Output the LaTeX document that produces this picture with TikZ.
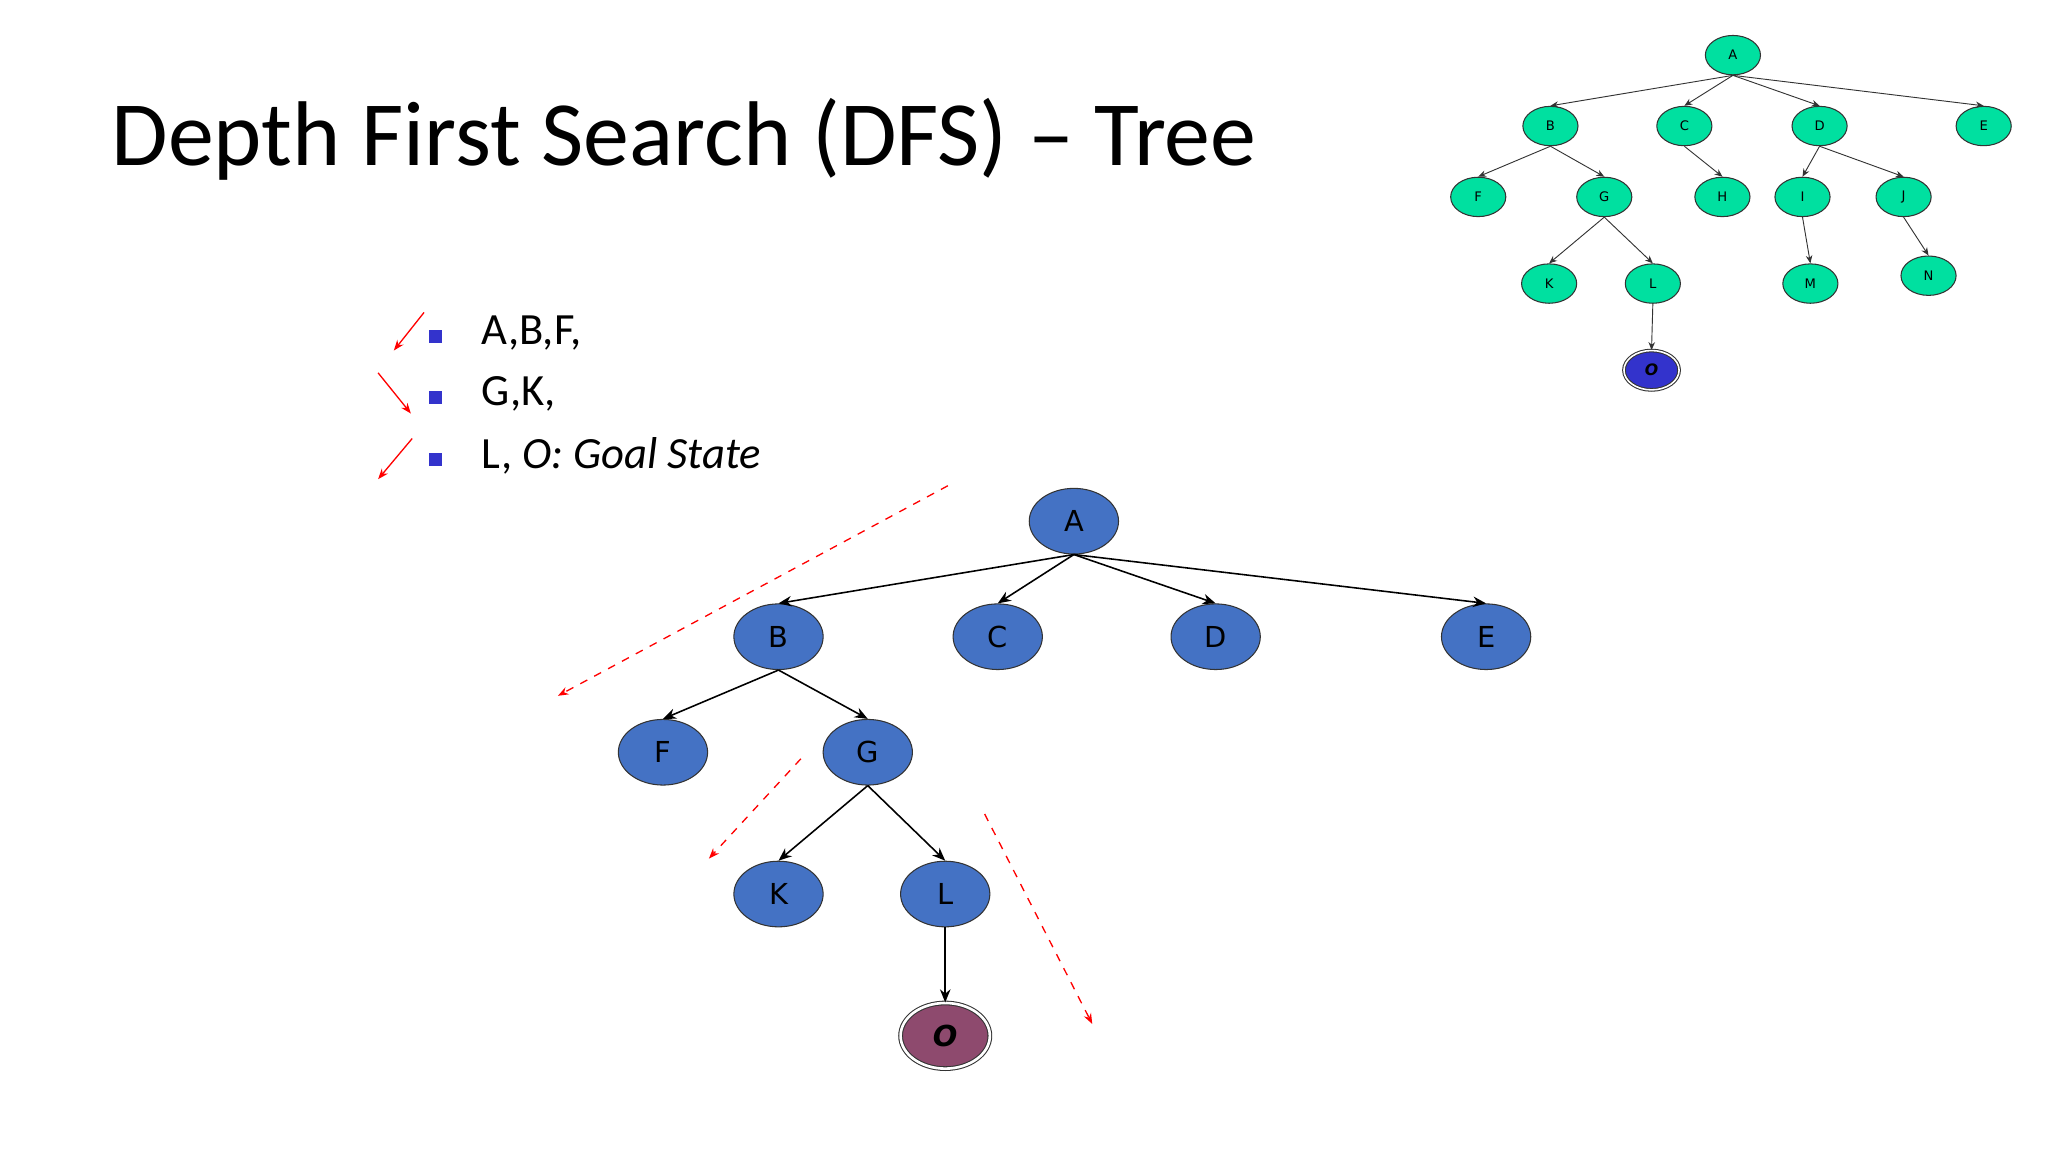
\documentclass[tikz,border=0pt]{standalone}
\usepackage{fontspec}
\setmainfont{Carlito}
\newfontfamily\nodefont{DejaVu Sans}
\usetikzlibrary{arrows.meta,shapes.geometric}
\definecolor{bigfill}{HTML}{4472C4}
\definecolor{smallfill}{HTML}{00E0A0}
\definecolor{goalfill}{HTML}{8E4A6E}
\definecolor{goalsmall}{HTML}{3333CC}
\definecolor{bul}{HTML}{3333CC}
\begin{document}
\begin{tikzpicture}[x=0.5pt,y=-0.5pt,
  bignode/.style={ellipse,draw=black!80,fill=bigfill,minimum width=34pt,minimum height=25pt,inner sep=0pt,font=\nodefont\fontsize{11}{11}\selectfont},
  smallnode/.style={ellipse,draw=black!80,fill=smallfill,minimum width=21pt,minimum height=15pt,inner sep=0pt,font=\nodefont\fontsize{5}{5}\selectfont},
  bigedge/.style={-{Stealth[length=5pt,width=4pt]},line width=0.6pt},
  smalledge/.style={-{Stealth[length=3pt,width=2.5pt]},line width=0.35pt,black!80},
  redarr/.style={red,dashed,line width=0.5pt,-{Stealth[length=4pt,width=3pt]}},
  redsolid/.style={red,line width=0.5pt,-{Stealth[length=4pt,width=3pt]}},
  bullet/.style={fill=bul,minimum size=5pt,inner sep=0pt},
  btext/.style={anchor=west,font=\fontsize{17}{17}\selectfont}]
\useasboundingbox (0,0) rectangle (1560,877.5);
\node[anchor=west,font=\fontsize{35}{35}\selectfont] (title) at (78,106) {Depth First Search (DFS) -- Tree};
% bullets
\node[bullet] (b1) at (332,256) {};
\node[bullet] (b2) at (332,303) {};
\node[bullet] (b3) at (332,350) {};
\node[btext] (t1) at (360,254) {A,B,F,};
\node[btext] (t2) at (360,300) {G,K,};
\node[btext] (t3) at (360,347) {L, \textit{O: Goal State}};
\coordinate (r1s) at (323,238); \coordinate (r1e) at (300,267);
\coordinate (r2s) at (288,284); \coordinate (r2e) at (313,315);
\coordinate (r3s) at (314,334); \coordinate (r3e) at (288,365);
\draw[redsolid] (r1s) -- (r1e);
\draw[redsolid] (r2s) -- (r2e);
\draw[redsolid] (r3s) -- (r3e);
% big tree
\node[bignode] (A) at (818,397) {A};
\node[bignode] (B) at (593,485) {B};
\node[bignode] (C) at (760,485) {C};
\node[bignode] (D) at (926,485) {D};
\node[bignode] (E) at (1132,485) {E};
\node[bignode] (F) at (505,573) {F};
\node[bignode] (G) at (661,573) {G};
\node[bignode] (K) at (593,681) {K};
\node[bignode] (L) at (720,681) {L};
\node[bignode,fill=goalfill,double=white,double distance=1pt,font=\nodefont\bfseries\itshape\fontsize{11}{11}\selectfont] (O) at (720,789) {O};
\foreach \c in {B,C,D,E} \draw[bigedge] (A.south) -- (\c.north);
\draw[bigedge] (B.south) -- (F.north);
\draw[bigedge] (B.south) -- (G.north);
\draw[bigedge] (G.south) -- (K.north);
\draw[bigedge] (G.south) -- (L.north);
\draw[bigedge] (L.south) -- (O.north);
\coordinate (d1s) at (722,370); \coordinate (d1e) at (425,530);
\coordinate (d2s) at (610,578); \coordinate (d2e) at (540,654);
\coordinate (d3s) at (750,620); \coordinate (d3e) at (832,780);
\draw[redarr] (d1s) -- (d1e);
\draw[redarr] (d2s) -- (d2e);
\draw[redarr] (d3s) -- (d3e);
% small tree
\node[smallnode] (a) at (1320,42) {A};
\node[smallnode] (b) at (1181,96) {B};
\node[smallnode] (c) at (1283,96) {C};
\node[smallnode] (d) at (1386,96) {D};
\node[smallnode] (e) at (1511,96) {E};
\node[smallnode] (f) at (1126,150) {F};
\node[smallnode] (g) at (1222,150) {G};
\node[smallnode] (h) at (1312,150) {H};
\node[smallnode] (i) at (1373,150) {I};
\node[smallnode] (j) at (1450,150) {J};
\node[smallnode] (k) at (1180,216) {K};
\node[smallnode] (l) at (1259,216) {L};
\node[smallnode] (m) at (1379,216) {M};
\node[smallnode] (n) at (1469,210) {N};
\node[smallnode,fill=goalsmall,double=white,double distance=0.6pt,font=\nodefont\bfseries\itshape\fontsize{6}{6}\selectfont] (o) at (1258,282) {O};
\foreach \c in {b,c,d,e} \draw[smalledge] (a.south) -- (\c.north);
\draw[smalledge] (b.south) -- (f.north);
\draw[smalledge] (b.south) -- (g.north);
\draw[smalledge] (c.south) -- (h.north);
\draw[smalledge] (d.south) -- (i.north);
\draw[smalledge] (d.south) -- (j.north);
\draw[smalledge] (g.south) -- (k.north);
\draw[smalledge] (g.south) -- (l.north);
\draw[smalledge] (i.south) -- (m.north);
\draw[smalledge] (j.south) -- (n.north);
\draw[smalledge] (l.south) -- (o.north);
\end{tikzpicture}
\end{document}
